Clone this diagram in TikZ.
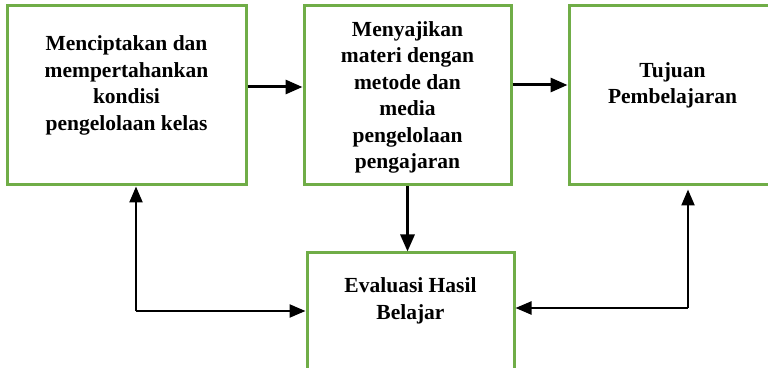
\documentclass[tikz,border=0pt]{standalone}
\usepackage{fontspec}
\setmainfont{Liberation Serif}
\usetikzlibrary{arrows.meta,positioning}
\definecolor{boxgreen}{RGB}{112,173,71}
\tikzset{
  box/.style={draw=boxgreen, line width=3pt, minimum width=207pt, minimum height=179pt, inner sep=0pt},
  boxtext/.style={align=center, font=\fontsize{21.5}{26.5}\selectfont\bfseries},
  arrow/.style={-{Triangle[length=17pt,width=14pt]}, line width=3pt},
  loop/.style={-{Triangle[length=16pt,width=13pt]}, line width=2.3pt}
}
\begin{document}
\begin{tikzpicture}[x=1pt, y=1pt]
  \useasboundingbox (0,0) rectangle (768,367);

  % -- Boxes --
  \node[box, minimum width=239pt] (mencipta) at (126.5,271.5) {};
  \node[box] (menyaji) at (407.5,271.5) {};
  \node[box] (tujuan) at (672.5,271.5) {};
  \node[box, minimum height=150pt] (evaluasi) at (410.5,39) {};

  % -- Box texts --
  \node[boxtext] (tmencipta) at ([yshift=10pt]mencipta.center) {Menciptakan dan\\mempertahankan\\kondisi\\pengelolaan kelas};
  \node[boxtext] (tmenyaji) at ([yshift=-2pt]menyaji.center) {Menyajikan\\materi dengan\\metode dan\\media\\pengelolaan\\pengajaran};
  \node[boxtext] (ttujuan) at ([yshift=10pt]tujuan.center) {Tujuan\\Pembelajaran};
  \node[boxtext] (tevaluasi) at (410.5,66) {Evaluasi Hasil\\Belajar};

  % -- Forward arrows --
  \draw[arrow] ([yshift=8.5pt]mencipta.east) -- ([yshift=8.5pt]menyaji.west);
  \draw[arrow] ([yshift=10.5pt]menyaji.east) -- ([yshift=10.5pt]tujuan.west);
  \draw[arrow] (menyaji.south) -- (menyaji.south |- evaluasi.north);

  % -- Feedback loops --
  \coordinate (cornerL) at (136,56);
  \coordinate (cornerR) at (688,59);
  \draw[loop] (cornerL) -- (cornerL |- mencipta.south);
  \draw[loop] (cornerL) -- (cornerL -| evaluasi.west);
  \draw[loop] (cornerR) -- ([yshift=-3pt]cornerR |- tujuan.south);
  \draw[loop] (cornerR) -- (cornerR -| evaluasi.east);

\end{tikzpicture}
\end{document}
